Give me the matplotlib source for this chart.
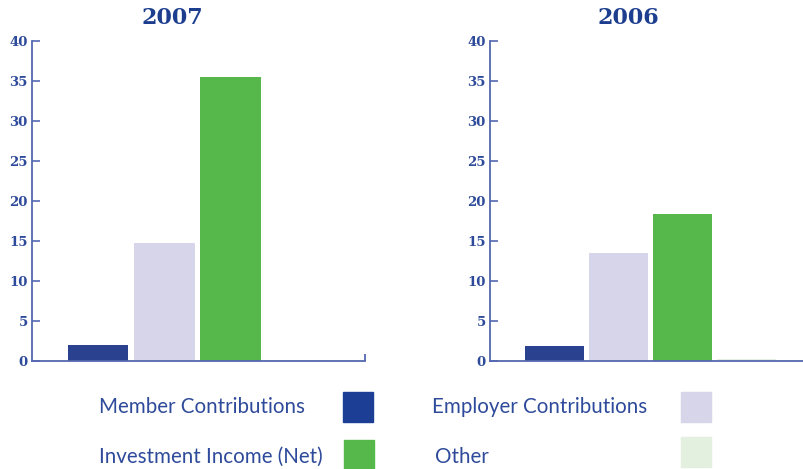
import matplotlib
matplotlib.use("Agg")
import matplotlib.pyplot as plt
from matplotlib.patches import Rectangle

categories = ["Member Contributions", "Employer Contributions", "Investment Income (Net)", "Other"]
values_2007 = [2.0, 14.75, 35.5, 0.1]
values_2006 = [1.85, 13.5, 18.4, 0.25]
yticks = [0, 5, 10, 15, 20, 25, 30, 35, 40]

colors = ["#2a4190", "#d6d5e9", "#56b84a", "#e3efdf"]
legend_colors = ["#1c3f95", "#d6d5e9", "#56b84a", "#e3efdf"]
axis_color = "#5568b0"
text_color = "#2e4a9a"
title_color = "#1d3e8f"

fig = plt.figure(figsize=(8.04, 4.69), dpi=100)

ax1 = fig.add_axes([32 / 804, 108 / 469, 333 / 804, 320 / 469])
ax2 = fig.add_axes([490 / 804, 108 / 469, 314 / 804, 320 / 469])

for ax, vals, xmax in [(ax1, values_2007, 4.04), (ax2, values_2006, 3.9)]:
    ax.bar(range(len(vals)), vals, width=0.92, color=colors)
    ax.set_xlim(-1, xmax)
    ax.set_ylim(0, 40)
    ax.set_yticks(yticks)
    ax.set_yticklabels([str(t) for t in yticks], fontfamily="DejaVu Serif",
                       fontweight="bold", fontsize=9.5, color=text_color)
    for s in ["top", "right"]:
        ax.spines[s].set_visible(False)
    for s in ["left", "bottom"]:
        ax.spines[s].set_color(axis_color)
        ax.spines[s].set_linewidth(1.3)
    ax.tick_params(axis="y", direction="in", length=6, width=1.2, color=axis_color, pad=3)
    ax.patch.set_alpha(0)

ax1.set_xticks([4.04])
ax1.set_xticklabels([""])
ax1.tick_params(axis="x", direction="in", length=5, width=1.3, color=axis_color)
ax2.set_xticks([])

fig.text(172 / 804, 1 - 18 / 469, "2007", ha="center", va="center", fontsize=16,
         fontweight="bold", fontfamily="DejaVu Serif", color=title_color)
fig.text(628 / 804, 1 - 18 / 469, "2006", ha="center", va="center", fontsize=16,
         fontweight="bold", fontfamily="DejaVu Serif", color=title_color)

# legend, laid out by hand
text_pos = [(99, 407), (432, 407), (99, 457), (435, 457)]
box_pos = [(343, 392), (681, 392), (344, 440), (681, 437)]
for name, c, (tx, ty), (bx, by) in zip(categories, legend_colors, text_pos, box_pos):
    fig.text(tx / 804, 1 - ty / 469, name, ha="left", va="center", fontsize=14.8,
             fontfamily="Lato", color=text_color)
    fig.patches.append(Rectangle((bx / 804, 1 - (by + 30) / 469), 30 / 804, 30 / 469,
                                 transform=fig.transFigure, color=c, figure=fig))

fig.savefig("out.png", dpi=100)
